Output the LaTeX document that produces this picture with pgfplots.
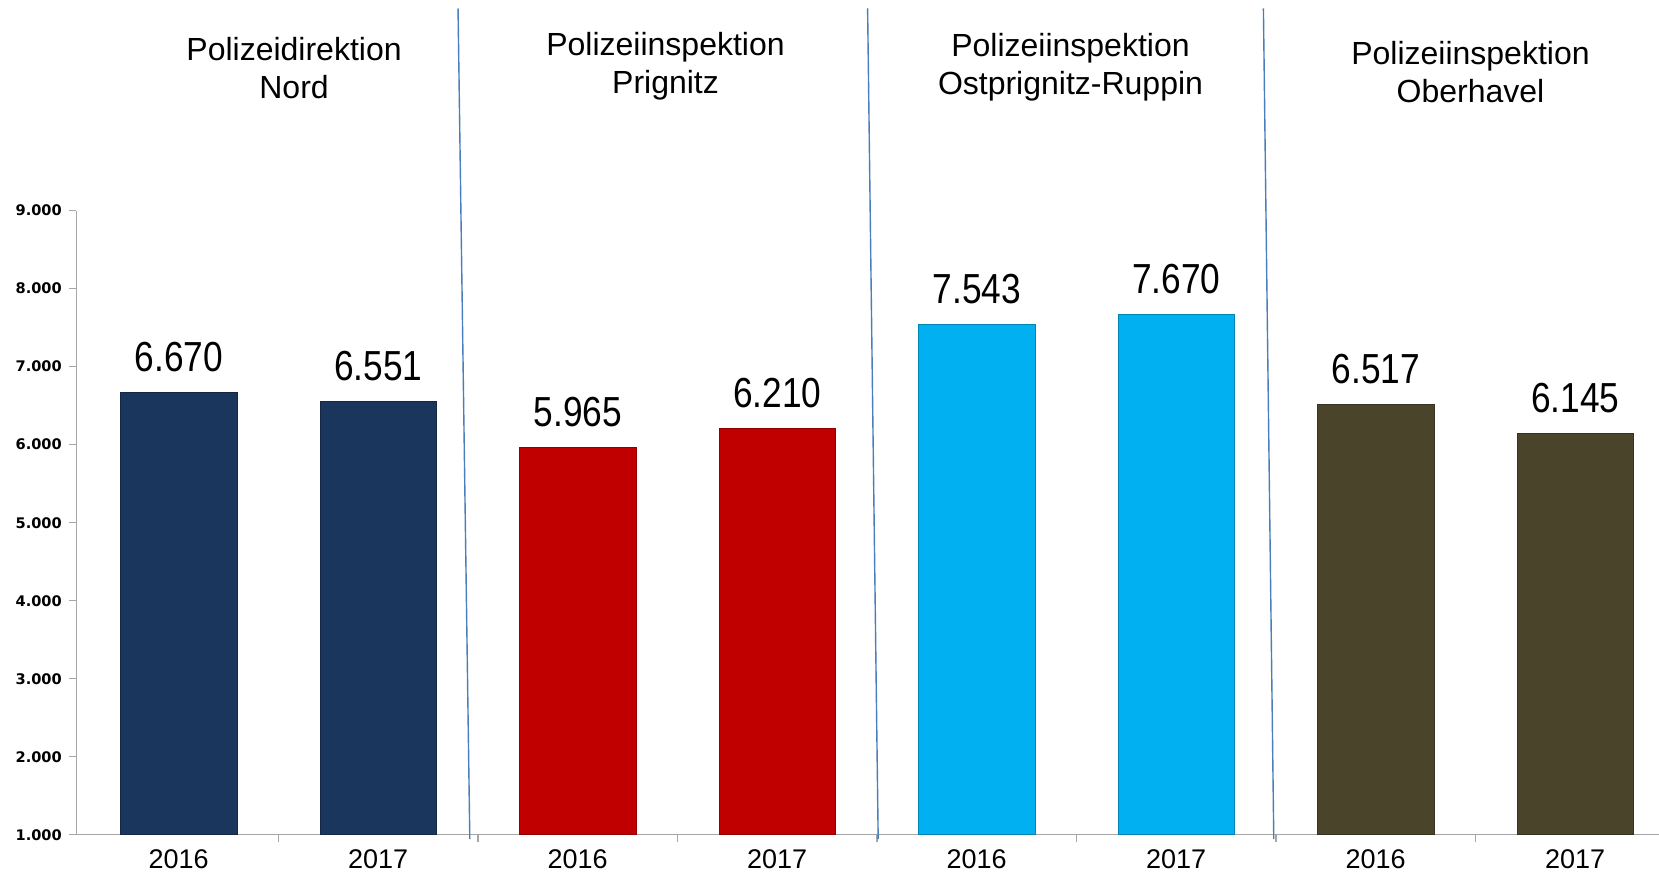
\documentclass[border=0pt]{standalone}
\usepackage{fontspec}
\setmainfont{Liberation Sans}
\newfontfamily\tickfont{DejaVu Sans}
\usepackage{pgfplots}
\pgfplotsset{compat=1.18}

\definecolor{navy}{HTML}{1B365D}
\definecolor{pred}{HTML}{C00000}
\definecolor{pcyan}{HTML}{00B0F0}
\definecolor{polive}{HTML}{4A442B}
\definecolor{sepblue}{HTML}{4A7EBB}
\definecolor{axgray}{HTML}{A6A6A6}

\begin{document}
\begin{tikzpicture}
\path[use as bounding box] (-38.1pt,-19.1pt) rectangle (791.4pt,417.4pt);
\begin{axis}[
  at={(0,0)}, anchor=south west,
  scale only axis, width=791.4pt, height=312.1pt,
  xmin=-0.514, xmax=7.42, ymin=1000, ymax=9000,
  clip mode=individual,
  axis x line*=bottom, axis y line*=left,
  axis line style={axgray, line width=0.6pt, -},
  tick align=outside,
  tick style={axgray, line width=0.6pt},
  major tick length=3.5pt,
  ytick={1000,2000,...,9000},
  yticklabel style={font=\tickfont\bfseries\fontsize{7.3}{8}\selectfont,
                    inner sep=0pt, anchor=east, xshift=-3.5pt},
  xtick={0.5,1.5,...,6.5}, xticklabels={},
  extra x ticks={0,1,...,7},
  extra x tick labels={2016,2017,2016,2017,2016,2017,2016,2017},
  extra x tick style={major tick length=0pt,
    xticklabel style={font=\fontsize{13.5}{14}\selectfont, inner sep=0pt,
                      anchor=north, yshift=-7pt}},
  /pgf/number format/1000 sep={.},
  /pgf/number format/assume math mode=true,
  nodes near coords,
  every node near coord/.append style={font=\fontsize{21}{21}\selectfont, xscale=0.84,
                                       black, inner sep=0pt, anchor=south, yshift=10pt},
]
% Polizeidirektion Nord
\addplot[ybar, bar width=58.2pt, bar shift=0pt, fill=navy, draw=navy!75!black]
  coordinates {(0,6670) (1,6551)};
% PI Prignitz
\addplot[ybar, bar width=58.2pt, bar shift=0pt, fill=pred, draw=pred!75!black]
  coordinates {(2,5965) (3,6210)};
% PI Ostprignitz-Ruppin
\addplot[ybar, bar width=58.2pt, bar shift=0pt, fill=pcyan, draw=pcyan!75!black]
  coordinates {(4,7543) (5,7670)};
% PI Oberhavel
\addplot[ybar, bar width=58.2pt, bar shift=0pt, fill=polive, draw=polive!75!black]
  coordinates {(6,6517) (7,6145)};

\draw[sepblue, line width=0.7pt] (axis cs:1.400,11591) -- (axis cs:1.459,946);
\draw[sepblue, line width=0.7pt] (axis cs:3.453,11591) -- (axis cs:3.506,946);
\draw[sepblue, line width=0.7pt] (axis cs:5.437,11591) -- (axis cs:5.489,946);

\node[align=center, font=\fontsize{16}{19}\selectfont] at (axis cs:0.578,10832) {Polizeidirektion\\Nord};
\node[align=center, font=\fontsize{16}{19}\selectfont] at (axis cs:2.44,10850) {Polizeiinspektion\\Prignitz};
\node[align=center, font=\fontsize{16}{19}\selectfont] at (axis cs:4.47,10832) {Polizeiinspektion\\Ostprignitz-Ruppin};
\node[align=center, font=\fontsize{16}{19}\selectfont] at (axis cs:6.475,10778) {Polizeiinspektion\\Oberhavel};
\end{axis}
\end{tikzpicture}
\end{document}
